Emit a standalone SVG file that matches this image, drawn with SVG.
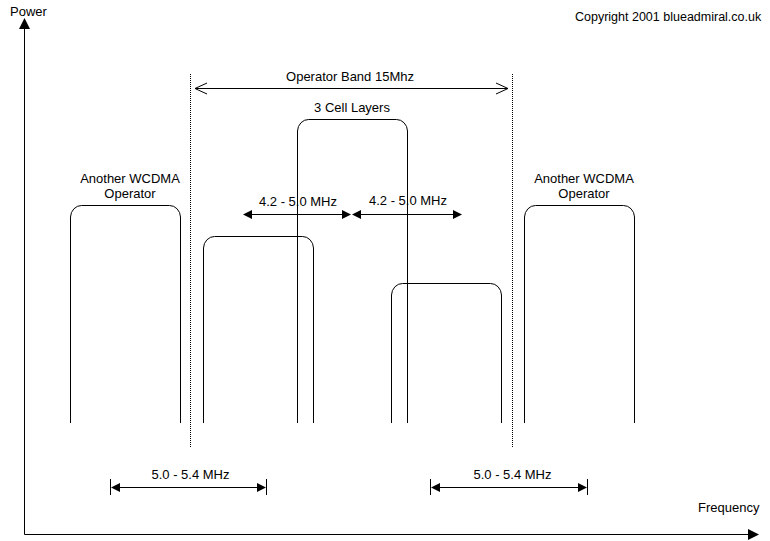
<svg xmlns="http://www.w3.org/2000/svg" width="770" height="541" viewBox="0 0 770 541">
<style>
  text { font-family: "Liberation Sans", Arial, sans-serif; font-size: 13px; fill: #000; }
  .mid { text-anchor: middle; }
  .ln { stroke: #000; stroke-width: 1; fill: none; }
  .dot { stroke: #000; stroke-width: 1; fill: none; stroke-dasharray: 1 1; }
  .head { fill: #000; stroke: none; }
</style>
<rect width="770" height="541" fill="#fff"/>

<text x="575" y="21" style="font-size:12.5px">Copyright 2001 blueadmiral.co.uk</text>

<g id="axes">
  <polyline class="ln" points="24.5,28 24.5,534.5 749,534.5"/>
  <polygon class="head" points="24.5,18 19,29 30,29"/>
  <polygon class="head" points="759,534.5 748,529 748,540"/>
  <text x="10" y="16">Power</text>
  <text x="698" y="512">Frequency</text>
</g>

<g id="band-limits">
  <line class="dot" x1="190.5" y1="74" x2="190.5" y2="448"/>
  <line class="dot" x1="512.5" y1="74" x2="512.5" y2="448"/>
</g>

<g id="op-left">
  <path class="ln" d="M70.5,423 V217 A11,12 0 0 1 81.5,205.5 H169.5 A11,12 0 0 1 180.5,217 V423"/>
  <text class="mid" x="130" y="183">Another WCDMA</text>
  <text class="mid" x="130" y="198">Operator</text>
</g>

<g id="cell-1">
  <path class="ln" d="M203.5,423 V248 A11,12 0 0 1 214.5,236.5 H302.5 A11,12 0 0 1 313.5,248 V423"/>
</g>

<g id="cell-2">
  <path class="ln" d="M297.5,423 V131 A11,12 0 0 1 308.5,119.5 H396.5 A11,12 0 0 1 407.5,131 V423"/>
  <text class="mid" x="352" y="112">3 Cell Layers</text>
</g>

<g id="cell-3">
  <path class="ln" d="M391.5,423 V295 A11,12 0 0 1 402.5,283.5 H490.5 A11,12 0 0 1 501.5,295 V423"/>
</g>

<g id="op-right">
  <path class="ln" d="M524.5,423 V217 A11,12 0 0 1 535.5,205.5 H623.5 A11,12 0 0 1 634.5,217 V423"/>
  <text class="mid" x="584" y="183">Another WCDMA</text>
  <text class="mid" x="584" y="198">Operator</text>
</g>

<g id="connectors">
  <!-- Operator band -->
  <line class="ln" x1="195" y1="88.5" x2="508" y2="88.5"/>
  <polyline class="ln" points="207,83 195,88.5 207,94"/>
  <polyline class="ln" points="496,83 508,88.5 496,94"/>
  <text class="mid" x="350" y="81">Operator Band 15Mhz</text>

  <!-- 4.2 - 5.0 MHz spacings -->
  <line class="ln" x1="248" y1="214.5" x2="346" y2="214.5"/>
  <polygon class="head" points="243,214.5 252,210 252,219"/>
  <polygon class="head" points="351,214.5 342,210 342,219"/>
  <text class="mid" x="298" y="206">4.2 - 5.0 MHz</text>

  <line class="ln" x1="357" y1="214.5" x2="457" y2="214.5"/>
  <polygon class="head" points="352,214.5 361,210 361,219"/>
  <polygon class="head" points="462,214.5 453,210 453,219"/>
  <text class="mid" x="408" y="205">4.2 - 5.0 MHz</text>

  <!-- 5.0 - 5.4 MHz left -->
  <line class="ln" x1="110.5" y1="479" x2="110.5" y2="495"/>
  <line class="ln" x1="266.5" y1="479" x2="266.5" y2="495"/>
  <line class="ln" x1="115" y1="487.5" x2="262" y2="487.5"/>
  <polygon class="head" points="111,487.5 120,483 120,492"/>
  <polygon class="head" points="266,487.5 257,483 257,492"/>
  <text class="mid" x="190.5" y="479">5.0 - 5.4 MHz</text>

  <!-- 5.0 - 5.4 MHz right -->
  <line class="ln" x1="430.5" y1="479" x2="430.5" y2="495"/>
  <line class="ln" x1="587.5" y1="479" x2="587.5" y2="495"/>
  <line class="ln" x1="435" y1="487.5" x2="583" y2="487.5"/>
  <polygon class="head" points="431,487.5 440,483 440,492"/>
  <polygon class="head" points="587,487.5 578,483 578,492"/>
  <text class="mid" x="512.5" y="479">5.0 - 5.4 MHz</text>
</g>
</svg>
